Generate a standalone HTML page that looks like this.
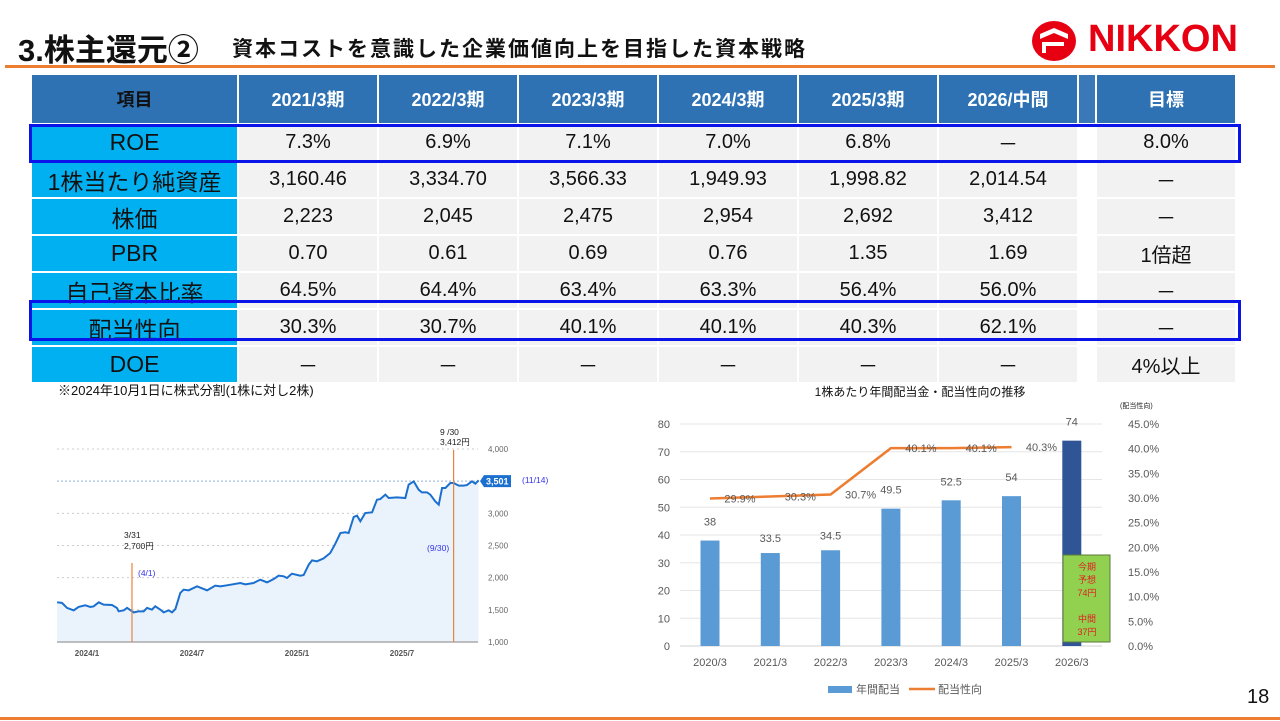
<!DOCTYPE html>
<html><head><meta charset="utf-8">
<style>
body{margin:0;width:1280px;height:721px;overflow:hidden;background:#fff;font-family:"Liberation Sans","Noto Sans CJK JP",sans-serif;position:relative}
.abs{position:absolute}
#tbl{position:absolute;left:32px;top:75px;display:grid;grid-template-columns:205px repeat(6,138px) 16px 138px;grid-template-rows:48px repeat(7,35px);gap:2px}
#tbl div{display:flex;align-items:center;justify-content:center;color:#111;font-size:20px;white-space:nowrap}
#tbl .h{background:#2e72b4;color:#fff;font-weight:bold;font-size:18px}
#tbl .h0{color:#111}
#tbl .l{background:#00b0f0;font-size:23px}
#tbl .d{background:#f2f2f2}
#tbl .g{background:#fff}
#tbl .hg{background:#3a78b8}
.box{position:absolute;border:3px solid #0a14e8;box-sizing:border-box}
</style></head><body>
<div class="abs" style="left:18px;top:25px;font-size:31px;font-weight:bold;color:#111">3.株主還元②</div>
<div class="abs" style="left:232px;top:33px;font-size:21px;letter-spacing:2px;font-weight:bold;color:#111">資本コストを意識した企業価値向上を目指した資本戦略</div>
<div class="abs" style="left:1030px;top:20px;width:222px;height:42px">
<svg width="50" height="42" style="position:absolute;left:0;top:0"><ellipse cx="24" cy="21" rx="22" ry="20" fill="#e60012"/><path d="M10 14 L24 8 L38 14 L38 19 L24 13 L10 19Z M12 22 L34 22 L34 26 L16 26 L16 33 L12 33Z" fill="#fff"/></svg>
<div style="position:absolute;left:58px;top:-2px;font-size:38px;font-weight:bold;color:#e60012;letter-spacing:0px">NIKKON</div>
</div>
<div class="abs" style="left:5px;top:65px;width:1270px;height:3px;background:#ed7d31"></div>

<div id="tbl">
<div class="h h0">項目</div><div class="h">2021/3期</div><div class="h">2022/3期</div><div class="h">2023/3期</div><div class="h">2024/3期</div><div class="h">2025/3期</div><div class="h">2026/中間</div><div class="h hg"></div><div class="h">目標</div>
<div class="l">ROE</div><div class="d">7.3%</div><div class="d">6.9%</div><div class="d">7.1%</div><div class="d">7.0%</div><div class="d">6.8%</div><div class="d">－</div><div class="g"></div><div class="d">8.0%</div>
<div class="l">1株当たり純資産</div><div class="d">3,160.46</div><div class="d">3,334.70</div><div class="d">3,566.33</div><div class="d">1,949.93</div><div class="d">1,998.82</div><div class="d">2,014.54</div><div class="g"></div><div class="d">－</div>
<div class="l">株価</div><div class="d">2,223</div><div class="d">2,045</div><div class="d">2,475</div><div class="d">2,954</div><div class="d">2,692</div><div class="d">3,412</div><div class="g"></div><div class="d">－</div>
<div class="l">PBR</div><div class="d">0.70</div><div class="d">0.61</div><div class="d">0.69</div><div class="d">0.76</div><div class="d">1.35</div><div class="d">1.69</div><div class="g"></div><div class="d">1倍超</div>
<div class="l">自己資本比率</div><div class="d">64.5%</div><div class="d">64.4%</div><div class="d">63.4%</div><div class="d">63.3%</div><div class="d">56.4%</div><div class="d">56.0%</div><div class="g"></div><div class="d">－</div>
<div class="l">配当性向</div><div class="d">30.3%</div><div class="d">30.7%</div><div class="d">40.1%</div><div class="d">40.1%</div><div class="d">40.3%</div><div class="d">62.1%</div><div class="g"></div><div class="d">－</div>
<div class="l">DOE</div><div class="d">－</div><div class="d">－</div><div class="d">－</div><div class="d">－</div><div class="d">－</div><div class="d">－</div><div class="g"></div><div class="d">4%以上</div>
</div>
<div class="box" style="left:29px;top:124px;width:1212px;height:39px"></div>
<div class="box" style="left:29px;top:300px;width:1212px;height:41px"></div>
<div class="abs" style="left:58px;top:380px;font-size:13px;color:#111">※2024年10月1日に株式分割(1株に対し2株)</div>

<svg id="stock" class="abs" style="left:0;top:400px" width="600" height="270"></svg>
<svg id="div" class="abs" style="left:600px;top:380px" width="600" height="320"></svg>

<div class="abs" style="left:1247px;top:686px;font-size:20px;color:#111">18</div>
<div class="abs" style="left:0;top:717px;width:1280px;height:3px;background:#ed7d31"></div>

<script>
// ---- stock chart data ----
const stockMonths=[-1.71,-1.43,-1.14,-0.76,-0.48,-0.10,0.19,0.38,0.67,0.95,1.43,1.71,1.81,2.10,2.29,2.67,2.95,3.24,3.43,3.71,3.90,4.19,4.38,4.67,4.86,5.05,5.33,5.52,5.81,6.29,6.86,7.33,7.62,8.0,8.76,9.05,9.52,9.90,10.29,10.67,10.95,11.24,11.43,11.71,12.19,12.38,12.67,12.86,13.14,13.52,13.90,14.19,14.48,14.76,14.95,15.24,15.43,15.62,15.90,16.29,16.57,16.76,17.05,17.24,17.71,18.19,18.38,18.67,18.95,19.14,19.43,19.62,19.90,20.10,20.29,20.48,20.76,20.95,21.24,21.52,21.71,22.0,22.19,22.38];
const stockPrices=[1617,1608,1530,1492,1545,1570,1545,1555,1617,1580,1575,1530,1477,1492,1530,1460,1477,1477,1530,1503,1555,1503,1460,1492,1460,1512,1762,1814,1803,1865,1803,1876,1865,1881,1917,1896,1917,1969,1927,1979,2031,2021,1995,2062,2031,2041,2202,2269,2254,2300,2383,2528,2694,2705,2694,2943,2964,2876,3005,3015,3212,3222,3290,3238,3248,3238,3446,3497,3368,3326,3326,3290,3187,3135,3394,3394,3471,3471,3430,3430,3440,3497,3461,3513];
const stockTicks=[1000,1500,2000,2500,3000,3500,4000];
const stockXLabels=["2024/1","2024/7","2025/1","2025/7"];
const stockXLabelMonths=[0,6,12,18];
const lastPrice=3501;
const eventMonths=[2.57,20.95];

const NS="http://www.w3.org/2000/svg";
function mk(svg,tag,attrs,text){const e=document.createElementNS(NS,tag);for(const k in attrs)e.setAttribute(k,attrs[k]);if(text!==undefined)e.textContent=text;svg.appendChild(e);return e;}

(function(){
const s=document.getElementById('stock');
const sx=t=>87+t*17.5, sy=v=>242-(v-1000)*(193/3000);
const X0=57,X1=478;
stockTicks.forEach(v=>{
 if(v!==1000&&v!==3500){const g=mk(s,'line',{x1:X0,x2:X1,y1:sy(v),y2:sy(v),stroke:'#ccc','stroke-dasharray':'2,3'});
 }
 if(v!==3500){const t=mk(s,'text',{x:488,y:sy(v)+3,'font-size':8,fill:'#666'},v.toLocaleString('en-US'));
 }
});
let d=`M${sx(stockMonths[0])},${sy(stockPrices[0])}`;
stockMonths.forEach((m,i)=>{if(i)d+=` L${sx(m)},${sy(stockPrices[i])}`;});
const area=mk(s,'path',{d:d+` L${sx(stockMonths[stockMonths.length-1])},${sy(1000)} L${sx(stockMonths[0])},${sy(1000)}Z`,fill:'#eaf3fb'});

const base=mk(s,'line',{x1:X0,x2:X1,y1:sy(1000),y2:sy(1000),stroke:'#aaa','stroke-width':1.5});

const ll=mk(s,'line',{x1:X0,x2:482,y1:sy(lastPrice),y2:sy(lastPrice),stroke:'#8fb3d9','stroke-dasharray':'2,2'});

const ln=mk(s,'path',{d:d,fill:'none',stroke:'#1a6fcf','stroke-width':2});

const ev1=mk(s,'line',{x1:sx(eventMonths[0]),x2:sx(eventMonths[0]),y1:163,y2:sy(1000),stroke:'#e8843c','stroke-width':1.2});

const ev2=mk(s,'line',{x1:sx(eventMonths[1]),x2:sx(eventMonths[1]),y1:50,y2:sy(1000),stroke:'#e8843c','stroke-width':1.2});

stockXLabels.forEach((l,i)=>{const t=mk(s,'text',{x:sx(stockXLabelMonths[i]),y:256,'font-size':8,fill:'#555','text-anchor':'middle','font-weight':'bold'},l);
});
const bd=mk(s,'path',{d:`M480,${sy(lastPrice)} l4,-6 h27 v12 h-27z`,fill:'#1a6fcf'});

const bt=mk(s,'text',{x:486,y:sy(lastPrice)+3.5,'font-size':9,fill:'#fff','font-weight':'bold'},lastPrice.toLocaleString('en-US'));

const anns=[[522,83,'(11/14)','#3333ee'],[138,176,'(4/1)','#3333ee'],[427,151,'(9/30)','#3333ee'],[124,138,'3/31','#222'],[124,149,'2,700円','#222'],[440,35,'9 /30','#222'],[440,45,'3,412円','#222']];
anns.forEach(a=>{const t=mk(s,'text',{x:a[0],y:a[1],'font-size':8.5,fill:a[3]},a[2]);
});
})();

// ---- dividend chart data ----
const divCategories=["2020/3","2021/3","2022/3","2023/3","2024/3","2025/3","2026/3"];
const divValues=[38,33.5,34.5,49.5,52.5,54,74];
const payoutRatios=[29.9,30.3,30.7,40.1,40.1,40.3];
const divLeftTicks=[0,10,20,30,40,50,60,70,80];
const divRightTicks=[0,5,10,15,20,25,30,35,40,45];

(function(){
const s=document.getElementById('div');
const ox=600,oy=380;
const cx=i=>710-ox+i*60.3, yl=v=>646-oy-v*(222/80), yr=p=>646-oy-p*(222/45);
const t0=mk(s,'text',{x:920-ox,y:396-oy,'font-size':12,fill:'#111','text-anchor':'middle'},'1株あたり年間配当金・配当性向の推移');

const t1=mk(s,'text',{x:1120-ox,y:408-oy,'font-size':7,fill:'#222'},'(配当性向)');

divLeftTicks.forEach(v=>{
 const g=mk(s,'line',{x1:680-ox,x2:1102-ox,y1:yl(v),y2:yl(v),stroke:v?'#e6e6e6':'#d0d0d0'});
 
 const t=mk(s,'text',{x:670-ox,y:yl(v)+4,'font-size':11,fill:'#595959','text-anchor':'end'},v);
 
});
divRightTicks.forEach(p=>{const t=mk(s,'text',{x:1128-ox,y:yr(p)+4,'font-size':11,fill:'#595959'},p.toFixed(1)+'%');
 });
divValues.forEach((v,i)=>{
 const last=i===divValues.length-1;
 const b=mk(s,'rect',{x:cx(i)-9.5,y:yl(v),width:19,height:yl(0)-yl(v),fill:last?'#2f5597':'#5b9bd5'});
 
 const t=mk(s,'text',{x:cx(i),y:yl(v)-15+(i==1||i==2?4:0),'font-size':11,fill:'#595959','text-anchor':'middle'},v);
 
 const c=mk(s,'text',{x:cx(i),y:666-oy,'font-size':11,fill:'#595959','text-anchor':'middle'},divCategories[i]);
 
});
const pts=payoutRatios.map((p,i)=>cx(i)+','+yr(p)).join(' ');
const pl=mk(s,'polyline',{points:pts,fill:'none',stroke:'#ed7d31','stroke-width':2.5});

payoutRatios.forEach((p,i)=>{const t=mk(s,'text',{x:cx(i)+30,y:yr(p)+4,'font-size':11,fill:'#595959','text-anchor':'middle'},p.toFixed(1)+'%');
 });
const gb=mk(s,'rect',{x:1063-ox,y:555-oy,width:47,height:87,fill:'#92d050',stroke:'#5a7a3a'});

['今期','予想','74円','','中間','37円'].forEach((l,i)=>{const t=mk(s,'text',{x:1087-ox,y:570-oy+i*13,'font-size':9,fill:'#e02020','text-anchor':'middle'},l);
 });
const lr=mk(s,'rect',{x:828-ox,y:686-oy,width:24,height:7,fill:'#5b9bd5'});

const lt=mk(s,'text',{x:856-ox,y:693-oy,'font-size':11,fill:'#595959'},'年間配当');

const lo=mk(s,'line',{x1:909-ox,x2:935-ox,y1:689-oy,y2:689-oy,stroke:'#ed7d31','stroke-width':2.5});

const lt2=mk(s,'text',{x:938-ox,y:693-oy,'font-size':11,fill:'#595959'},'配当性向');

})();
</script>
</body></html>
